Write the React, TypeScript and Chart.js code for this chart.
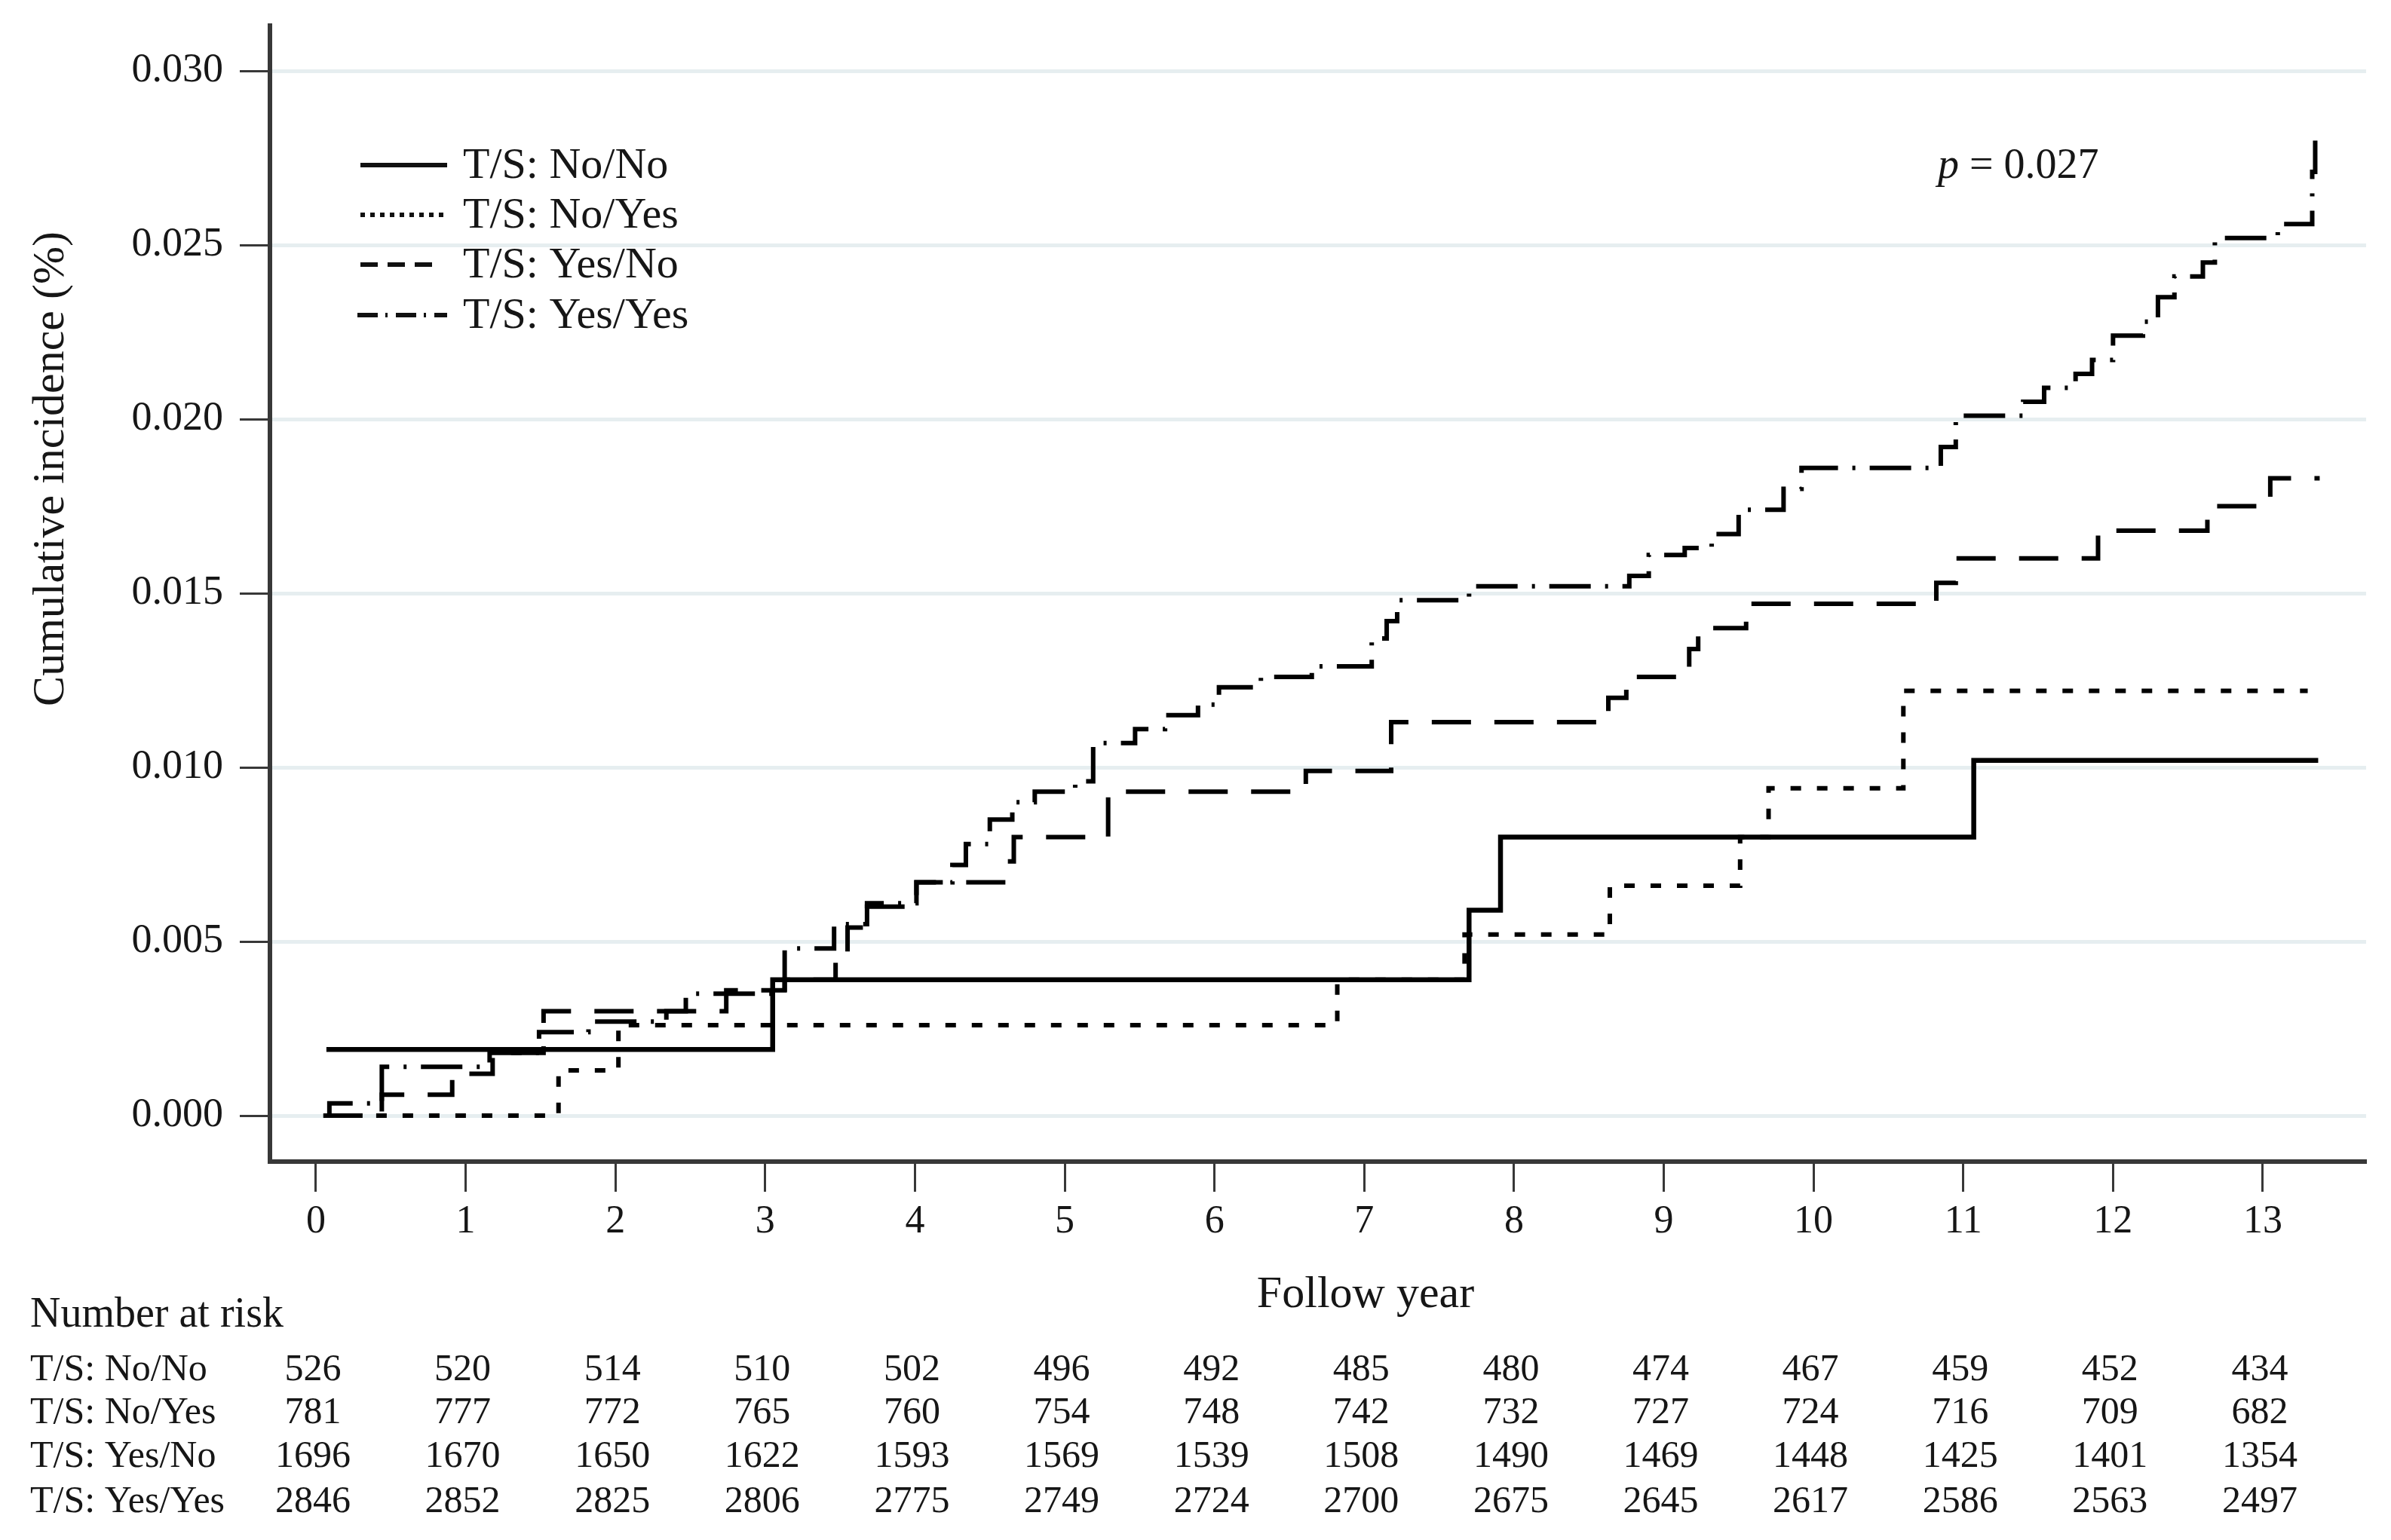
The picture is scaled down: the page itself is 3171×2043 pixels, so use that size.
import React, { useEffect, useRef } from 'react';
import { Chart, registerables } from 'chart.js';

Chart.register(...registerables);

const W = 3171;
const H = 2043;

// ---- data ----
const X_TICKS = [0, 1, 2, 3, 4, 5, 6, 7, 8, 9, 10, 11, 12, 13];
const Y_TICKS = [0, 0.005, 0.01, 0.015, 0.02, 0.025, 0.03];
const SERIES_LABELS = ['T/S: No/No', 'T/S: No/Yes', 'T/S: Yes/No', 'T/S: Yes/Yes'];
const X_TITLE = 'Follow year';
const Y_TITLE = 'Cumulative incidence (%)';
const RISK_TITLE = 'Number at risk';
const P_LABEL = 'p';
const P_VALUE = ' = 0.027';

const NO_NO_T = [0.07, 3.05, 7.7, 7.91, 11.07, 13.37];
const NO_NO_CI = [0.0019, 0.0039, 0.0059, 0.008, 0.0102, 0.0102];

const NO_YES_T = [0.05, 1.62, 2.02, 6.82, 7.67, 8.64, 9.51, 9.7, 10.6, 13.3];
const NO_YES_CI = [0, 0.0013, 0.0026, 0.0039, 0.0052, 0.0066, 0.008, 0.0094, 0.0122, 0.0122];

const YES_NO_T = [0.05, 0.44, 0.91, 1.18, 1.52, 2.74, 3.13, 3.47, 3.55, 3.68, 4.01, 4.62, 4.66, 5.29, 6.61, 7.18, 8.63, 8.75, 9.17, 9.23, 9.55, 10.82, 10.95, 11.9, 12.63, 13.05, 13.38];
const YES_NO_CI = [0, 0.0006, 0.0012, 0.0018, 0.003, 0.0036, 0.0039, 0.0047, 0.0054, 0.006, 0.0067, 0.0073, 0.008, 0.0093, 0.0099, 0.0113, 0.012, 0.0126, 0.0134, 0.014, 0.0147, 0.0153, 0.016, 0.0168, 0.0175, 0.0183, 0.0183];

const YES_YES_T = [0.05, 0.09, 0.44, 1.16, 1.49, 1.82, 2.34, 2.47, 3.13, 3.46, 3.68, 4.01, 4.25, 4.34, 4.5, 4.65, 4.8, 5.07, 5.19, 5.47, 5.67, 5.89, 6.03, 6.31, 6.65, 7.05, 7.15, 7.22, 7.7, 8.77, 8.9, 9.14, 9.32, 9.5, 9.8, 9.92, 10.85, 10.95, 11.4, 11.54, 11.75, 11.86, 12.0, 12.2, 12.3, 12.41, 12.6, 12.68, 13.1, 13.33, 13.35, 13.37];
const YES_YES_CI = [0, 0.00035, 0.0014, 0.0018, 0.0024, 0.0027, 0.003, 0.0035, 0.0048, 0.0055, 0.0061, 0.0067, 0.0072, 0.0078, 0.0085, 0.009, 0.0093, 0.0096, 0.0107, 0.0111, 0.0115, 0.0118, 0.0123, 0.0126, 0.0129, 0.0137, 0.0142, 0.0148, 0.0152, 0.0155, 0.0161, 0.0163, 0.0167, 0.0174, 0.018, 0.0186, 0.0192, 0.0201, 0.0205, 0.0209, 0.0213, 0.0217, 0.0224, 0.0228, 0.0235, 0.0241, 0.0245, 0.0252, 0.0256, 0.0271, 0.0283, 0.0283];

const RISK_NO_NO = [526, 520, 514, 510, 502, 496, 492, 485, 480, 474, 467, 459, 452, 434];
const RISK_NO_YES = [781, 777, 772, 765, 760, 754, 748, 742, 732, 727, 724, 716, 709, 682];
const RISK_YES_NO = [1696, 1670, 1650, 1622, 1593, 1569, 1539, 1508, 1490, 1469, 1448, 1425, 1401, 1354];
const RISK_YES_YES = [2846, 2852, 2825, 2806, 2775, 2749, 2724, 2700, 2675, 2645, 2617, 2586, 2563, 2497];

// ---- styles ----
const FONT = "'Liberation Serif', 'Times New Roman', serif";
const TEXT = '#161616';
const AXIS = '#383838';
const GRID = '#e6eef0';
const LINE_DASH = [[], [14, 21], [52, 31], [55, 19, 4, 19]];
const LINE_WIDTH = [6.5, 6, 6, 6];
const LEGEND_DASH = [[], [6, 7], [23, 13], [27, 10, 3, 11]];

const SERIES_T = [NO_NO_T, NO_YES_T, YES_NO_T, YES_YES_T];
const SERIES_CI = [NO_NO_CI, NO_YES_CI, YES_NO_CI, YES_YES_CI];
const RISK_ROWS = [RISK_NO_NO, RISK_NO_YES, RISK_YES_NO, RISK_YES_YES];

const overlayPlugin = {
  id: 'overlayText',
  afterDraw(chart: any) {
    const ctx: CanvasRenderingContext2D = chart.ctx;
    const xs = chart.scales.x;
    ctx.save();
    ctx.fillStyle = TEXT;

    // y axis title
    ctx.save();
    ctx.translate(68, 622);
    ctx.rotate(-Math.PI / 2);
    ctx.font = `60px ${FONT}`;
    ctx.textAlign = 'center';
    ctx.textBaseline = 'middle';
    ctx.fillText(Y_TITLE, 0, 0);
    ctx.restore();

    // x axis title
    ctx.font = `60px ${FONT}`;
    ctx.textAlign = 'center';
    ctx.textBaseline = 'middle';
    ctx.fillText(X_TITLE, 1811, 1718);

    // legend
    const legendY = [219, 285, 351, 418];
    SERIES_LABELS.forEach((lab, i) => {
      const y = legendY[i];
      ctx.save();
      ctx.strokeStyle = '#111';
      ctx.lineWidth = 6;
      ctx.lineCap = 'butt';
      ctx.setLineDash(LEGEND_DASH[i]);
      ctx.beginPath();
      ctx.moveTo(i === 3 ? 474 : 478, y);
      ctx.lineTo(i === 2 ? 582 : 593, y);
      ctx.stroke();
      ctx.restore();
      ctx.font = `58px ${FONT}`;
      ctx.textAlign = 'left';
      ctx.textBaseline = 'middle';
      ctx.fillText(lab, 614, y + 2);
    });

    // p value
    ctx.textAlign = 'left';
    ctx.textBaseline = 'middle';
    ctx.font = `italic 56px ${FONT}`;
    ctx.fillText(P_LABEL, 2570, 221);
    const pw = ctx.measureText(P_LABEL).width;
    ctx.font = `56px ${FONT}`;
    ctx.fillText(P_VALUE, 2570 + pw, 221);

    // risk table
    ctx.font = `56px ${FONT}`;
    ctx.textAlign = 'left';
    ctx.fillText(RISK_TITLE, 40, 1745);
    const rowY = [1818, 1875, 1933, 1993];
    RISK_ROWS.forEach((row, r) => {
      ctx.font = `50px ${FONT}`;
      ctx.textAlign = 'left';
      ctx.fillText(SERIES_LABELS[r], 40, rowY[r]);
      ctx.textAlign = 'center';
      row.forEach((n, i) => {
        ctx.fillText(String(n), xs.getPixelForValue(X_TICKS[i]) - 4, rowY[r]);
      });
    });
    ctx.restore();
  },
};

export default function App() {
  const ref = useRef<HTMLCanvasElement | null>(null);

  useEffect(() => {
    const canvas = ref.current;
    if (!canvas) return;
    const datasets = SERIES_LABELS.map((label, i) => ({
      label,
      data: SERIES_T[i].map((t, j) => ({ x: t, y: SERIES_CI[i][j] })),
      stepped: 'before' as const,
      borderColor: '#000',
      backgroundColor: '#000',
      borderWidth: LINE_WIDTH[i],
      borderDash: LINE_DASH[i],
      borderCapStyle: 'butt' as const,
      borderJoinStyle: 'miter' as const,
      pointRadius: 0,
      pointHoverRadius: 0,
      fill: false,
      tension: 0,
    }));

    const chart = new Chart(canvas, {
      type: 'line',
      data: { datasets },
      options: {
        responsive: false,
        animation: false,
        devicePixelRatio: 1,
        events: [],
        layout: { padding: { top: 34, right: 33, left: 0, bottom: 0 } },
        plugins: {
          legend: { display: false },
          tooltip: { enabled: false },
          title: { display: false },
        },
        scales: {
          x: {
            type: 'linear',
            min: -0.307,
            max: 13.69,
            afterBuildTicks: (s: any) => {
              s.ticks = X_TICKS.map((v) => ({ value: v }));
            },
            afterFit: (s: any) => {
              s.height = 502;
              s.paddingLeft = 0;
              s.paddingRight = 0;
            },
            grid: {
              drawOnChartArea: false,
              drawTicks: true,
              tickLength: 40,
              tickColor: AXIS,
              tickWidth: 3,
            },
            border: { display: true, color: AXIS, width: 6 },
            ticks: {
              autoSkip: false,
              maxRotation: 0,
              padding: 9,
              color: TEXT,
              font: { family: FONT, size: 52 },
              callback: (v: any) => String(v),
            },
          },
          y: {
            type: 'linear',
            min: -0.00132,
            max: 0.0313,
            afterBuildTicks: (s: any) => {
              s.ticks = Y_TICKS.map((v) => ({ value: v }));
            },
            afterFit: (s: any) => {
              s.width = 358;
              s.paddingTop = 0;
              s.paddingBottom = 0;
            },
            grid: {
              drawOnChartArea: true,
              color: GRID,
              lineWidth: 5,
              drawTicks: true,
              tickLength: 40,
              tickColor: AXIS,
              tickWidth: 3,
            },
            border: { display: true, color: AXIS, width: 6 },
            ticks: {
              padding: 22,
              color: TEXT,
              font: { family: FONT, size: 54 },
              callback: (v: any) => Number(v).toFixed(3),
            },
          },
        },
      },
      plugins: [overlayPlugin],
    } as any);

    return () => chart.destroy();
  }, []);

  return (
    <div style={{ position: 'absolute', left: 0, top: 0, width: W, height: H, background: '#fff' }}>
      <canvas ref={ref} width={W} height={H} style={{ display: 'block', width: W, height: H }} />
    </div>
  );
}
